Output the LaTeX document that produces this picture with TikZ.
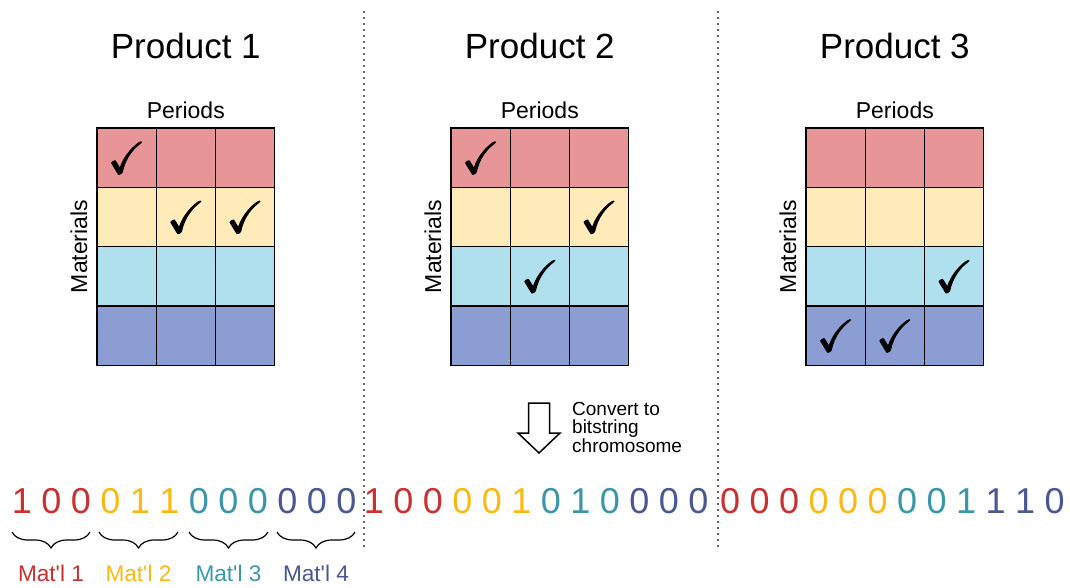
\documentclass[tikz,border=0pt]{standalone}
\usepackage{fontspec}
\setmainfont{Liberation Sans}
\newfontfamily\labelfont{Liberation Sans}
\usepackage{amssymb}
\usetikzlibrary{decorations.pathreplacing}

\definecolor{rowA}{HTML}{E79596}
\definecolor{rowB}{HTML}{FFEAB9}
\definecolor{rowC}{HTML}{B0E0EE}
\definecolor{rowD}{HTML}{8B9DD3}
\definecolor{mat1}{HTML}{C9302F}
\definecolor{mat2}{HTML}{FDB913}
\definecolor{mat3}{HTML}{3A97AA}
\definecolor{mat4}{HTML}{4A5793}

% check mark, filled and stroked so that it reads a little heavier
\newcommand{\heavycheck}{\special{pdf:literal direct 2 Tr 0.9 w}$\checkmark$\special{pdf:literal direct 0 Tr}}

\tikzset{
  cell/.style={draw=black, line width=1.3pt, minimum width=59.2pt, minimum height=59.3pt, inner sep=0pt},
  tick/.style={inner sep=0pt, font=\fontsize{45}{45}\selectfont},
  title/.style={anchor=base, font=\fontsize{35}{35}\selectfont},
  axislabel/.style={font=\fontsize{23}{23}\selectfont, inner sep=0pt},
  bit/.style={anchor=base, font=\fontsize{36}{36}\selectfont, inner sep=0pt},
  matlabel/.style={anchor=base, font=\labelfont\fontsize{22.6}{22.6}\selectfont, inner sep=0pt},
  divider/.style={draw=black!60, line width=2pt, dash pattern=on 2pt off 4pt},
  bracestyle/.style={draw=black, line width=1.2pt, decorate, decoration={brace, mirror, amplitude=16pt}},
}

\begin{document}
\begin{tikzpicture}[x=1pt,y=-1pt]
\useasboundingbox (0,0) rectangle (1070,588);

% dotted separators between the products
\coordinate (d1top) at (363.5,11);
\coordinate (d1bot) at (363.5,551);
\coordinate (d2top) at (717.5,11);
\coordinate (d2bot) at (717.5,551);
\draw[divider] (d1top) -- (d1bot);
\draw[divider] (d2top) -- (d2bot);

% product grids: 4 materials (rows) x 3 periods (columns)
\foreach \p/\gx in {1/97,2/451,3/806} {
  \foreach \r/\col in {1/rowA,2/rowB,3/rowC,4/rowD} {
    \foreach \c in {1,2,3} {
      \node[cell, fill=\col] (p\p r\r c\c) at ({\gx+(\c-0.5)*59.2}, {128+(\r-0.5)*59.3}) {};
    }
  }
  \node[title] (title\p) at ({\gx+88.8}, 59) {Product \p};
  \node[axislabel, anchor=base] (per\p) at ({\gx+88.8}, 119) {Periods};
  \node[axislabel, rotate=90] (mat\p) at ({\gx-18}, 246.5) {Materials};
}

% selected material/period combinations
\foreach \p/\r/\c in {1/1/1, 1/2/2, 1/2/3, 2/1/1, 2/2/3, 2/3/2, 3/3/3, 3/4/1, 3/4/2} {
  \node[tick] (k\p\r\c) at (p\p r\r c\c) {\heavycheck};
}

% conversion arrow
\draw[line width=1.5pt, line join=miter] (528.5,403) -- (549.5,403) -- (549.5,433) -- (560,433)
  -- (539,453) -- (518,433) -- (528.5,433) -- cycle;
\node[anchor=north west, align=left, inner sep=0pt,
      font=\fontsize{19}{18.5}\selectfont] (conv) at (572,402)
  {Convert to\\bitstring\\chromosome};

% bitstring chromosome
\foreach \p/\sx/\bits in {1/22/{1,0,0,0,1,1,0,0,0,0,0,0},
                          2/374/{1,0,0,0,0,1,0,1,0,0,0,0},
                          3/730/{0,0,0,0,0,0,0,0,1,1,1,0}} {
  \foreach \b [count=\i] in \bits {
    \pgfmathtruncatemacro{\g}{int((\i-1)/3)+1}
    \node[bit, text=mat\g] (b\p-\i) at ({\sx+(\i-1)*29.5}, 513) {\b};
  }
}

% material groups of the first product
\foreach \k/\xa/\xb in {1/12/90, 2/99/178, 3/189/268, 4/277/355} {
  \coordinate (bl\k) at (\xa,532);
  \coordinate (br\k) at (\xb,532);
  \draw[bracestyle] (bl\k) -- (br\k);
  \node[matlabel, text=mat\k] (ml\k) at ({(\xa+\xb)/2}, 581) {Mat'l \k};
}
\end{tikzpicture}
\end{document}
